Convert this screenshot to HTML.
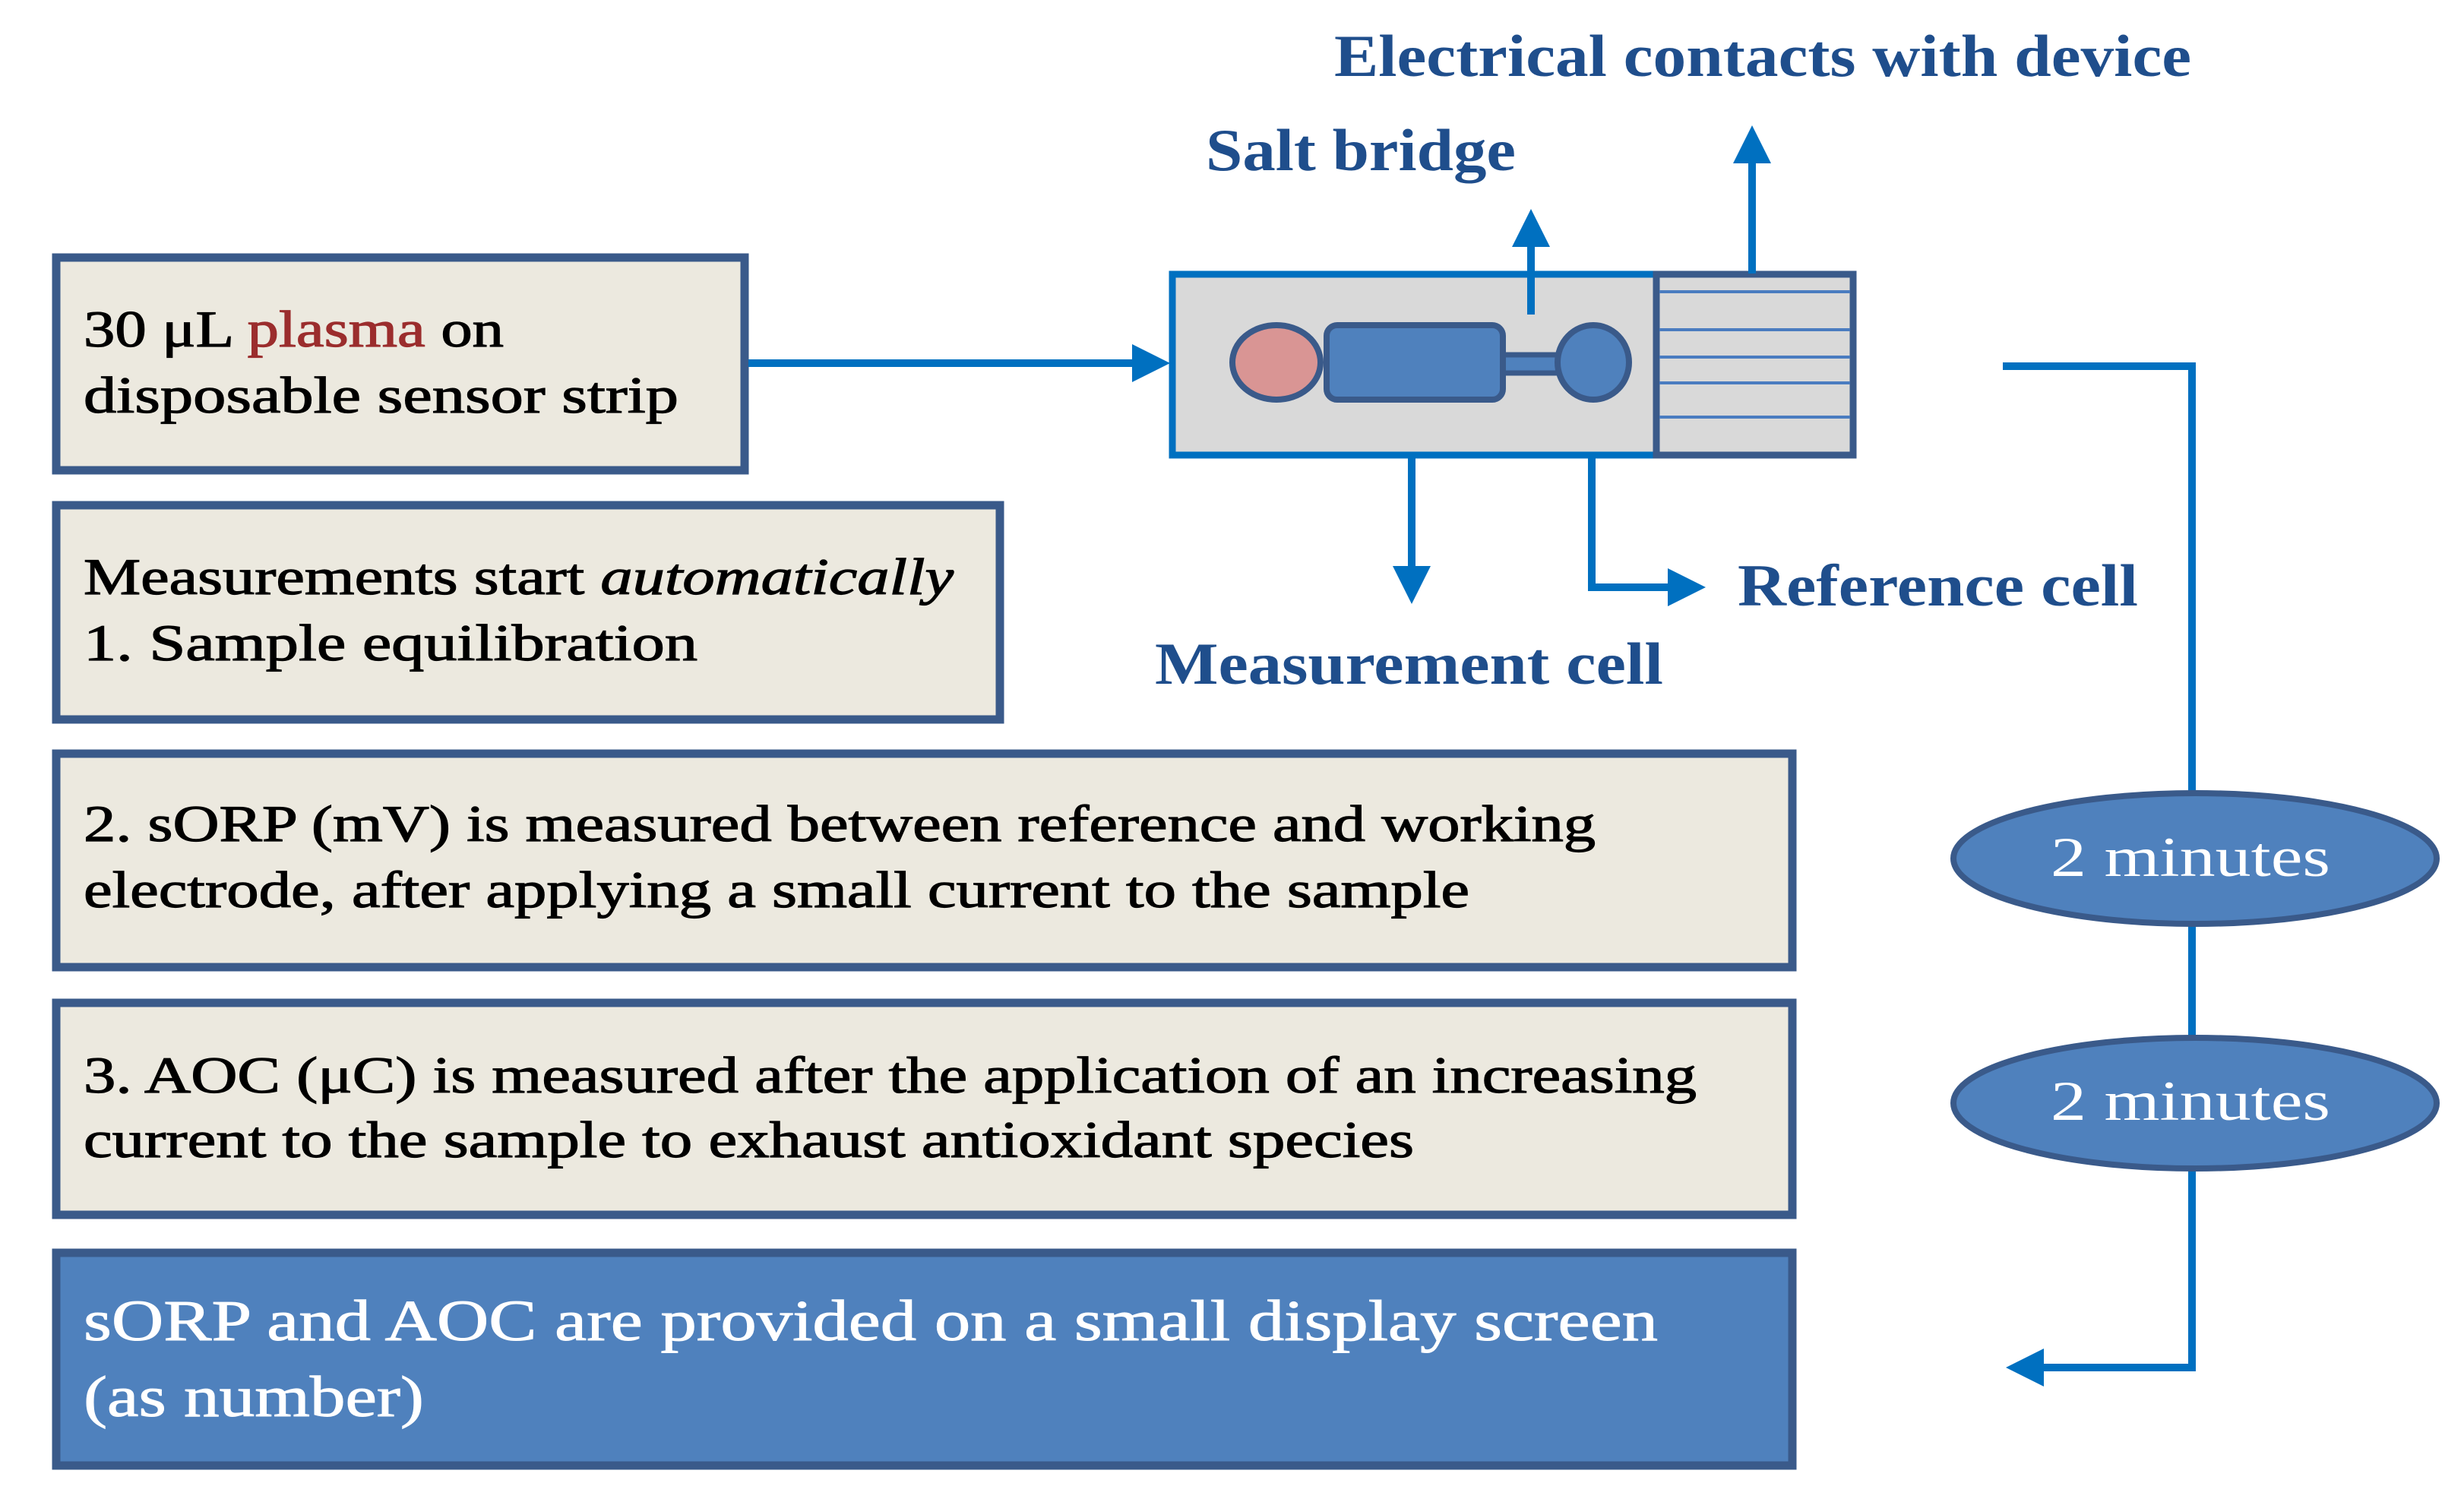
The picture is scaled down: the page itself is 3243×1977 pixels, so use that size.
<!DOCTYPE html>
<html><head><meta charset="utf-8"><style>html,body{margin:0;padding:0;background:#fff}svg{display:block}</style></head>
<body>
<svg width="3243" height="1977" viewBox="0 0 3243 1977" xmlns="http://www.w3.org/2000/svg" font-family="'Liberation Serif', serif">
<defs>
<marker id="ah" markerWidth="5" markerHeight="5" refX="2.5" refY="2.5" orient="auto" markerUnits="strokeWidth"><path d="M0,0 L5,2.5 L0,5 z" fill="#0070c0"/></marker>
</defs>
<g fill="#ece9df" stroke="#3a5a8a" stroke-width="11">
<rect x="74" y="339" width="906" height="280"/>
<rect x="74" y="665" width="1242" height="282"/>
<rect x="74" y="992" width="2285" height="281"/>
<rect x="74" y="1320" width="2285" height="279"/>
<rect x="74" y="1649" width="2285" height="280" fill="#4f81bd"/>
</g>
<g font-size="68" fill="#000" stroke="#000" stroke-width="1.2">
<text x="110" y="456" textLength="553" lengthAdjust="spacingAndGlyphs">30 μL <tspan fill="#9b2d2d" stroke="#9b2d2d">plasma</tspan> on</text>
<text x="110" y="543" textLength="783" lengthAdjust="spacingAndGlyphs">disposable sensor strip</text>
<text x="110" y="782" textLength="1145" lengthAdjust="spacingAndGlyphs">Measurements start <tspan font-style="italic">automatically</tspan></text>
<text x="110" y="869" textLength="808" lengthAdjust="spacingAndGlyphs">1. Sample equilibration</text>
<text x="110" y="1107" textLength="1990" lengthAdjust="spacingAndGlyphs">2. sORP (mV) is measured between reference and working</text>
<text x="110" y="1194" textLength="1824" lengthAdjust="spacingAndGlyphs">electrode, after applying a small current to the sample</text>
<text x="110" y="1438" textLength="2123" lengthAdjust="spacingAndGlyphs">3. AOC (μC) is measured after the application of an increasing</text>
<text x="110" y="1523" textLength="1751" lengthAdjust="spacingAndGlyphs">current to the sample to exhaust antioxidant species</text>
</g>
<g font-size="76" fill="#fff" stroke="#fff" stroke-width="1">
<text x="110" y="1764" textLength="2072" lengthAdjust="spacingAndGlyphs">sORP and AOC are provided on a small display screen</text>
<text x="110" y="1864" textLength="448" lengthAdjust="spacingAndGlyphs">(as number)</text>
</g>
<rect x="1543" y="361" width="637" height="238" fill="#d9d9d9" stroke="#0070c0" stroke-width="9"/>
<rect x="2180" y="361" width="259" height="238" fill="#d9d9d9" stroke="#3a5a8a" stroke-width="9"/>
<g stroke="#4a7cc0" stroke-width="4">
<line x1="2184" y1="384" x2="2435" y2="384"/>
<line x1="2184" y1="434" x2="2435" y2="434"/>
<line x1="2184" y1="470" x2="2435" y2="470"/>
<line x1="2184" y1="504" x2="2435" y2="504"/>
<line x1="2184" y1="549" x2="2435" y2="549"/>
</g>
<rect x="1975" y="467" width="78" height="24" fill="#4f81bd" stroke="#3a5a8a" stroke-width="7"/>
<ellipse cx="1680" cy="477" rx="58" ry="49" fill="#d99594" stroke="#3a5a8a" stroke-width="8"/>
<rect x="1746" y="428" width="232" height="98" rx="14" fill="#4f81bd" stroke="#3a5a8a" stroke-width="8"/>
<ellipse cx="2097" cy="477" rx="47" ry="49" fill="#4f81bd" stroke="#3a5a8a" stroke-width="8"/>
<g stroke="#0070c0" stroke-width="10" fill="none">
<line x1="985" y1="478" x2="1515" y2="478" marker-end="url(#ah)"/>
<line x1="2015" y1="414" x2="2015" y2="300" marker-end="url(#ah)"/>
<line x1="2306" y1="360" x2="2306" y2="190" marker-end="url(#ah)"/>
<line x1="1858" y1="603" x2="1858" y2="770" marker-end="url(#ah)"/>
<polyline points="2095,603 2095,773 2220,773" marker-end="url(#ah)"/>
<polyline points="2636,482 2885,482 2885,1800 2665,1800" marker-end="url(#ah)"/>
</g>
<g fill="#4f81bd" stroke="#3a5a8a" stroke-width="8">
<ellipse cx="2889" cy="1130" rx="318" ry="86"/>
<ellipse cx="2889" cy="1452" rx="318" ry="86"/>
</g>
<g font-size="74" fill="#fff">
<text x="2699" y="1153" textLength="368" lengthAdjust="spacingAndGlyphs">2 minutes</text>
<text x="2699" y="1474" textLength="368" lengthAdjust="spacingAndGlyphs">2 minutes</text>
</g>
<g font-size="78" font-weight="bold" fill="#1f4e8c">
<text x="1756" y="100" textLength="1128" lengthAdjust="spacingAndGlyphs">Electrical contacts with device</text>
<text x="1587" y="224" textLength="408" lengthAdjust="spacingAndGlyphs">Salt bridge</text>
<text x="2287" y="797" textLength="527" lengthAdjust="spacingAndGlyphs">Reference cell</text>
<text x="1520" y="900" textLength="669" lengthAdjust="spacingAndGlyphs">Measurement cell</text>
</g>
</svg>
</body></html>
